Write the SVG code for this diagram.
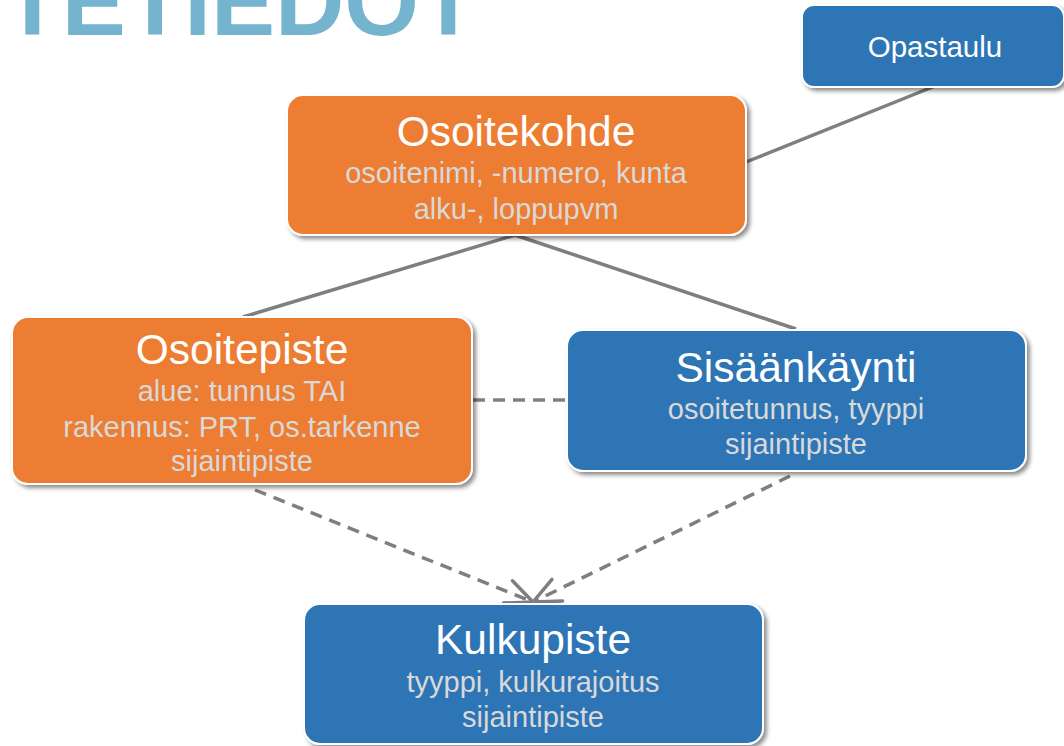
<svg xmlns="http://www.w3.org/2000/svg" width="1064" height="746" viewBox="0 0 1064 746">
<defs>
<filter id="sh" x="-10%" y="-10%" width="125%" height="130%">
<feDropShadow dx="3" dy="3" stdDeviation="2.2" flood-color="#000" flood-opacity="0.45"/>
</filter>
<marker id="arr" markerUnits="userSpaceOnUse" markerWidth="34" markerHeight="30" viewBox="0 0 34 30" refX="31" refY="15" orient="auto">
<path d="M4,3 L31,15 L4,27" fill="none" stroke="#7F7F7F" stroke-width="3.5" stroke-linecap="round" stroke-linejoin="round"/>
</marker>
<style>
.orange{fill:#ED7D31;stroke:#fff;stroke-width:2;filter:url(#sh)}
.blue{fill:#2E75B6;stroke:#fff;stroke-width:2;filter:url(#sh)}
.t{font-family:"Liberation Sans",Arial,sans-serif;font-size:42.5px;fill:#fff;text-anchor:middle}
.s{font-family:"Liberation Sans",Arial,sans-serif;font-size:29px;fill:#D9D9D9;text-anchor:middle}
.w{font-family:"Liberation Sans",Arial,sans-serif;font-size:29.5px;fill:#fff;text-anchor:middle}
.line{stroke:#7F7F7F;stroke-width:3.5;fill:none}
.dash{stroke:#7F7F7F;stroke-width:3.5;fill:none;stroke-dasharray:12 8}
</style>
</defs>
<rect width="1064" height="746" fill="#fff"/>
<text x="3" y="35" font-family="Liberation Sans,Arial,sans-serif" font-weight="bold" font-size="96" fill="#74B4CE">TETIEDOT</text>
<g id="connectors">
<line class="line" x1="935" y1="86" x2="746" y2="162"/>
<line class="line" x1="515" y1="235" x2="243" y2="317"/>
<line class="line" x1="515" y1="235" x2="796" y2="329"/>
<line class="dash" x1="473" y1="400" x2="566" y2="400"/>
<line class="dash" x1="255" y1="490" x2="533" y2="602" marker-end="url(#arr)"/>
<line class="dash" x1="790" y1="476" x2="533" y2="602" marker-end="url(#arr)"/>
</g>
<g id="opastaulu">
<rect class="blue" x="802" y="5" width="262" height="82" rx="12"/>
<text class="w" x="935" y="57">Opastaulu</text>
</g>
<g id="osoitekohde">
<rect class="orange" x="287" y="95" width="459" height="140" rx="16"/>
<text class="t" x="516" y="146">Osoitekohde</text>
<text class="s" x="516" y="183">osoitenimi, -numero, kunta</text>
<text class="s" x="516" y="219">alku-, loppupvm</text>
</g>
<g id="osoitepiste">
<rect class="orange" x="12" y="317" width="460" height="167" rx="16"/>
<text class="t" x="242" y="364">Osoitepiste</text>
<text class="s" x="242" y="401">alue: tunnus TAI</text>
<text class="s" x="242" y="437">rakennus: PRT, os.tarkenne</text>
<text class="s" x="242" y="471">sijaintipiste</text>
</g>
<g id="sisaankaynti">
<rect class="blue" x="567" y="330" width="459" height="141" rx="16"/>
<text class="t" x="796" y="382">Sisäänkäynti</text>
<text class="s" x="796" y="419">osoitetunnus, tyyppi</text>
<text class="s" x="796" y="454">sijaintipiste</text>
</g>
<g id="kulkupiste">
<rect class="blue" x="304" y="604" width="459" height="140" rx="16"/>
<text class="t" x="533" y="654">Kulkupiste</text>
<text class="s" x="533" y="692">tyyppi, kulkurajoitus</text>
<text class="s" x="533" y="727">sijaintipiste</text>
</g>
</svg>
